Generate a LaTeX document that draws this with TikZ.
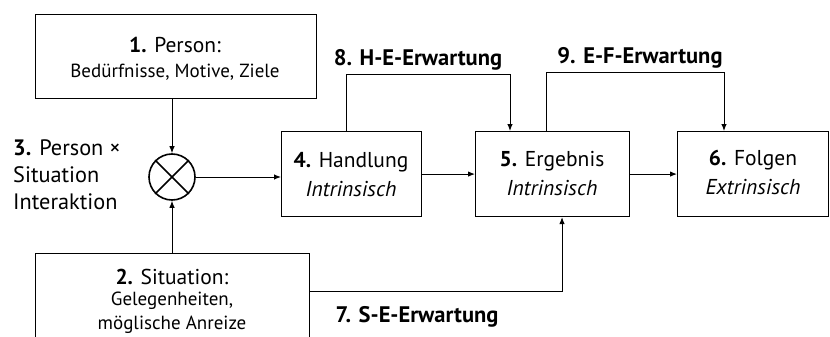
\documentclass[tikz,border=0pt]{standalone}
\usepackage{fontspec}
\setmainfont{PT Sans}
\usetikzlibrary{arrows.meta}
\begin{document}
\begin{tikzpicture}[x=1pt,y=-1pt,
  box/.style={draw,line width=1.1pt,anchor=north west,inner sep=0pt},
  conn/.style={line width=1pt},
  arr/.style={conn,-{Latex[length=7pt,width=5.5pt]}},
  head/.style={inner sep=0pt,font=\fontsize{21.5}{23}\selectfont},
  sub/.style={inner sep=0pt,font=\fontsize{19}{21}\selectfont},
  lab/.style={inner sep=0pt,font=\fontsize{22.5}{24}\selectfont\bfseries},
  side/.style={inner sep=0pt,anchor=west,font=\fontsize{22.3}{24}\selectfont}]
\useasboundingbox (0,0) rectangle (830,337);
\clip (0,0) rectangle (830,337);
% boxes
\node[box,minimum width=281pt,minimum height=84pt] (b1) at (35,14) {};
\node[box,minimum width=274pt,minimum height=112pt] (b2) at (35,253) {};
\node[box,minimum width=140pt,minimum height=85pt] (b4) at (281,131) {};
\node[box,minimum width=154pt,minimum height=85pt] (b5) at (475,131) {};
\node[box,minimum width=151pt,minimum height=85pt] (b6) at (677,131) {};
\node[circle,draw,line width=1.6pt,minimum size=46pt,inner sep=0pt] (c) at (172,177) {};
\draw[line width=1.6pt] (c.north west) -- (c.south east) (c.north east) -- (c.south west);
% texts
\node[head] (t1a) at (175,45) {\textbf{1.} Person:};
\node[sub] (t1b) at (175,72) {Bedürfnisse, Motive, Ziele};
\node[head] (t2a) at (172,277) {\textbf{2.} Situation:};
\node[sub] (t2b) at (172,301) {Gelegenheiten,};
\node[sub] (t2c) at (172,325) {möglische Anreize};
\node[side] (t3a) at (13,148) {\textbf{3.} Person ×};
\node[side] (t3b) at (13,175) {Situation};
\node[side] (t3c) at (13,202) {Interaktion};
\node[head] (t4a) at (351,162) {\textbf{4.} Handlung};
\node[head] (t4b) at (351,189) {\itshape Intrinsisch};
\node[head] (t5a) at (552,161) {\textbf{5.} Ergebnis};
\node[head] (t5b) at (552,188) {\itshape Intrinsisch};
\node[head] (t6a) at (753,160) {\textbf{6.} Folgen};
\node[head] (t6b) at (753,187) {\itshape Extrinsisch};
\node[lab] (l8) at (418,60) {8. H-E-Erwartung};
\node[lab] (l9) at (640,58) {9. E-F-Erwartung};
\node[lab] (l7) at (417,317) {7. S-E-Erwartung};
% connectors
\draw[arr] (c.north |- b1.south) -- (c.north);
\draw[arr] (c.south |- b2.north) -- (c.south);
\draw[arr] (c.east) -- (c.east -| b4.west);
\draw[arr] (b4.east) -- (b5.west);
\draw[arr] (b5.east) -- (b6.west);
\coordinate (h1) at (346,75);
\coordinate (h2) at (510,75);
\draw[arr] (h1 |- b4.north) -- (h1) -- (h2) -- (h2 |- b5.north);
\coordinate (e1) at (546,73);
\coordinate (e2) at (724,73);
\draw[arr] (e1 |- b5.north) -- (e1) -- (e2) -- (e2 |- b6.north);
\coordinate (s1) at (309,291);
\coordinate (s2) at (562,291);
\draw[arr] (s1) -- (s2) -- (s2 |- b5.south);
\end{tikzpicture}
\end{document}
